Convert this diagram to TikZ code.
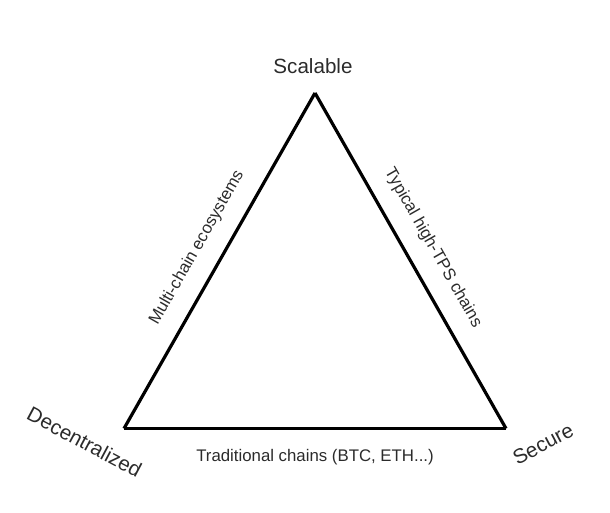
\documentclass[tikz,border=0pt]{standalone}
\usepackage{fontspec}
\setmainfont{Liberation Sans}
\usepackage{tikz}
\definecolor{labelgray}{HTML}{2B2B2B}
\tikzset{
  cornerlabel/.style={text=labelgray,font=\fontsize{20.6}{24}\selectfont,inner sep=0pt},
  edgelabel/.style={text=labelgray,font=\fontsize{16.8}{20}\selectfont,inner sep=0pt,text depth=0pt},
  edgeline/.style={draw=black,line width=3.2pt}
}

\begin{document}
\begin{tikzpicture}[x=1pt,y=1pt]
\useasboundingbox (0,0) rectangle (610,512);
% corners of the triangle:
\coordinate (scal) at (315,419);
\coordinate (dec) at (124,83.5);
\coordinate (sec) at (506,83.5);
% corner labels:
\node[cornerlabel,anchor=base] (scaltext) at (313,438) {Scalable};
\node[cornerlabel,rotate=-28] (dectext) at (84.5,70) {Decentralized};
\node[cornerlabel,rotate=28] (sectext) at (543,68) {Secure};
% sides:
\path[edgeline] (dec) -- node[edgelabel,midway,sloped,above=20pt] (multi) {Multi-chain ecosystems} (scal);
\path[edgeline] (scal) -- node[edgelabel,midway,sloped,above=20pt] (hightps) {Typical high-TPS chains} (sec);
\path[edgeline] (sec) -- node[edgelabel,midway,below=19.5pt,text height=12pt] (trad) {Traditional chains (BTC, ETH...)} (dec);
\end{tikzpicture}
\end{document}
